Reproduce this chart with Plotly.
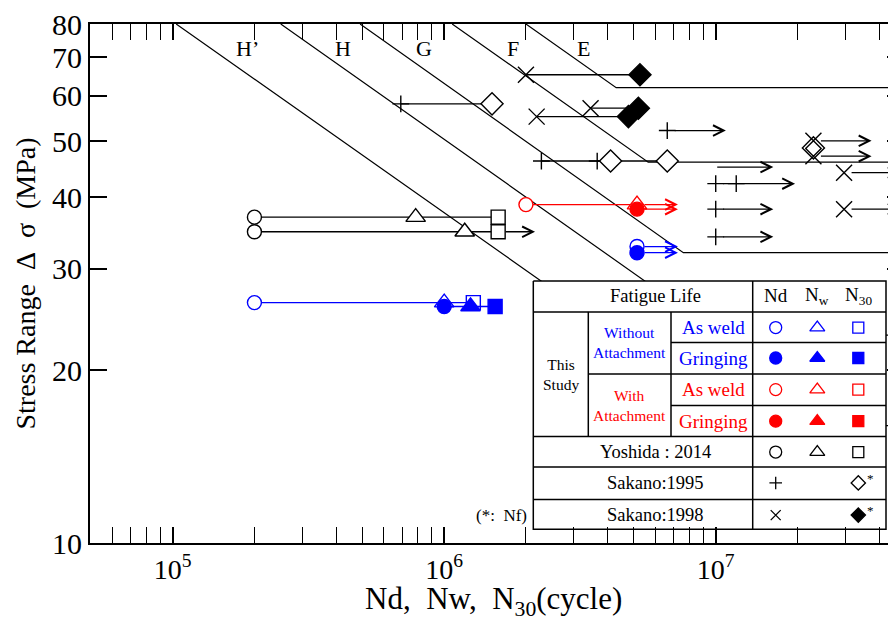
import math
import plotly.graph_objects as go

nan = float("nan")

# ---------------- data ----------------
# JSSC design S-N lines
sn_class = ["E", "F", "G", "H", "H’"]
sn_top_n = [2.0e6, 1.07e6, 4.9e5, 2.5e5, 1.03e5]      # N where line leaves 80 MPa
sn_top_sigma = 80
sn_knee_n = [4.3e6, 5.64e6, 7.6e6, 1.05e7, 1.3e7]     # knee (cut-off) N
sn_cutoff = [62, 46, 32, 23, 16]                       # cut-off limit (MPa)
sn_end_n = 1.0e8
sn_label_n = [3.27e6, 1.79e6, 8.43e5, 4.23e5, 1.88e5]
sn_label_sigma = 72.4

# This study - without attachment - as weld (blue, open)
wo_aw_sigma = [26.2, 32.8]
wo_aw_nd = [2.0e5, 5.13e6]
wo_aw_nw = [1.0e6, nan]
wo_aw_n30 = [1.28e6, nan]
wo_aw_runout = [nan, 7.26e6]

# This study - without attachment - grinding (blue, filled)
wo_gr_sigma = [25.8, 32.0]
wo_gr_nd = [1.0e6, 5.13e6]
wo_gr_nw = [1.25e6, nan]
wo_gr_n30 = [1.54e6, nan]
wo_gr_runout = [nan, 7.26e6]

# This study - with attachment - as weld (red, open)
w_aw_sigma = [38.8]
w_aw_nd = [2.0e6]
w_aw_nw = [5.13e6]
w_aw_n30 = [nan]
w_aw_runout = [7.26e6]

# This study - with attachment - grinding (red, filled)
w_gr_sigma = [38.1]
w_gr_nd = [5.13e6]
w_gr_nw = [nan]
w_gr_n30 = [nan]
w_gr_runout = [7.26e6]

# Yoshida 2014 (black, open)
yo_sigma = [36.9, 34.8]
yo_nd = [2.0e5, 2.0e5]
yo_nw = [7.85e5, 1.19e6]
yo_n30 = [1.58e6, 1.58e6]
yo_runout = [nan, 2.16e6]

# Sakano 1995 (+ = Nd, open diamond = Nf)
s95_sigma = [58.1, 46.2, 46.2, 52.2, 42.2, 42.2, 38.1, 34.1, 48.7]
s95_nd = [6.92e5, 2.28e6, 3.66e6, 6.63e6, 1.0e7, 1.19e7, 1.0e7, 1.0e7, nan]
s95_nf = [1.50e6, 4.10e6, 6.63e6, nan, nan, nan, nan, nan, 2.29e7]
s95_runout = [nan, nan, nan, 1.09e7, 1.96e7, nan, 1.63e7, 1.63e7, nan]
# Sakano 1995 run-out drawn without its own marker
s95b_sigma = [45.1]
s95b_n = [1.0e7]
s95b_runout = [1.63e7]

# Sakano 1998 (x = Nd, filled diamond = Nf)
s98_sigma = [65.3, 57.1, 55.2, 50.1, 47.1, 44.1, 38.1]
s98_nd = [2.0e6, 3.46e6, 2.19e6, 2.29e7, 2.29e7, 2.97e7, 2.97e7]
s98_nf = [5.26e6, 5.19e6, 4.77e6, nan, nan, nan, nan]
s98_runout = [nan, nan, nan, 3.75e7, 3.75e7, 4.8e7, 4.8e7]

y_tick_vals = [10, 20, 30, 40, 50, 60, 70, 80]
x_tick_vals = [1e5, 1e6, 1e7]
x_tick_text = ["10<sup>5</sup>", "10<sup>6</sup>", "10<sup>7</sup>"]
x_minor_vals = [6e4, 7e4, 8e4, 9e4, 2e5, 3e5, 4e5, 5e5, 6e5, 7e5, 8e5, 9e5,
                2e6, 3e6, 4e6, 5e6, 6e6, 7e6, 8e6, 9e6, 2e7, 3e7, 4e7]

# ---------------- style ----------------
FONT = "Liberation Serif"
BLUE = "#0000FF"
RED = "#FF0000"
BLACK = "#000000"

fig = go.Figure()
annotations = []


def isnum(v):
    return v is not None and not (isinstance(v, float) and math.isnan(v))


# S-N lines
for i, c in enumerate(sn_class):
    fig.add_trace(go.Scatter(
        x=[sn_top_n[i], sn_knee_n[i], sn_end_n],
        y=[sn_top_sigma, sn_cutoff[i], sn_cutoff[i]],
        mode="lines", line=dict(color=BLACK, width=1.2),
        hoverinfo="skip", showlegend=False))
    annotations.append(dict(x=math.log10(sn_label_n[i]), y=math.log10(sn_label_sigma),
                            xref="x", yref="y", text=c, showarrow=False,
                            font=dict(family=FONT, size=22, color=BLACK)))


def add_arrow(n0, n1, s, color, gap):
    annotations.append(dict(
        x=math.log10(n1), y=math.log10(s), xref="x", yref="y",
        ax=math.log10(n0), ay=math.log10(s), axref="x", ayref="y",
        text="", showarrow=True, arrowhead=5, arrowsize=1.6,
        arrowwidth=1.3, arrowcolor=color, standoff=0, startstandoff=gap))


def add_group(sigma, cols, symbols, color, filled, sizes, runout):
    xs, ys = [], []
    for r, s in enumerate(sigma):
        pts = [col[r] for col in cols if isnum(col[r])]
        if len(pts) >= 2:
            xs += [min(pts), max(pts), None]
            ys += [s, s, None]
    if xs:
        fig.add_trace(go.Scatter(x=xs, y=ys, mode="lines",
                                 line=dict(color=color, width=1.4),
                                 hoverinfo="skip", showlegend=False))
    for r, s in enumerate(sigma):
        if isnum(runout[r]):
            pts = [col[r] for col in cols if isnum(col[r])]
            add_arrow(max(pts), runout[r], s, color, 6)
    for col, sym, fl, sz in zip(cols, symbols, filled, sizes):
        px = [col[r] for r in range(len(sigma)) if isnum(col[r])]
        py = [sigma[r] for r in range(len(sigma)) if isnum(col[r])]
        if not px:
            continue
        fig.add_trace(go.Scatter(
            x=px, y=py, mode="markers", hoverinfo="skip", showlegend=False,
            marker=dict(symbol=sym, size=sz,
                        color=color if fl else "white",
                        line=dict(color=color, width=1.4))))


std_sym = ["circle", "triangle-up", "square"]
std_size = [14, 17, 14]
add_group(yo_sigma, [yo_nd, yo_nw, yo_n30], std_sym, BLACK, [False] * 3, std_size, yo_runout)
add_group(wo_aw_sigma, [wo_aw_nd, wo_aw_nw, wo_aw_n30], std_sym, BLUE, [False] * 3, std_size, wo_aw_runout)
add_group(wo_gr_sigma, [wo_gr_nd, wo_gr_nw, wo_gr_n30], std_sym, BLUE, [True] * 3, std_size, wo_gr_runout)
add_group(w_aw_sigma, [w_aw_nd, w_aw_nw, w_aw_n30], std_sym, RED, [False] * 3, std_size, w_aw_runout)
add_group(w_gr_sigma, [w_gr_nd, w_gr_nw, w_gr_n30], std_sym, RED, [True] * 3, std_size, w_gr_runout)
add_group(s95_sigma, [s95_nd, s95_nf], ["cross-thin", "diamond"], BLACK, [False, False], [12, 17], s95_runout)
add_group(s98_sigma, [s98_nd, s98_nf], ["x-thin", "diamond"], BLACK, [False, True], [16, 17], s98_runout)
for s, n0, n1 in zip(s95b_sigma, s95b_n, s95b_runout):
    add_arrow(n0, n1, s, BLACK, 0)

# right-hand tick marks (frame continues past the picture edge)
fig.add_trace(go.Scatter(x=[None], y=[None], yaxis="y2", showlegend=False, hoverinfo="skip"))

# ---------------- legend table (screen-pixel coordinates on an overlay axis) ----------------
L, R, T, B = 533.3, 886, 280, 529.3
C1, C2, C3 = 588.3, 671, 752.7
fig.add_trace(go.Scatter(x=[L, R, R, L, L], y=[T, T, B, B, T], xaxis="x2", yaxis="y3",
                         mode="lines", fill="toself", fillcolor="white",
                         line=dict(color=BLACK, width=1.5), hoverinfo="skip", showlegend=False))
hl = [(311, L), (341.7, C2), (373.3, C1), (405, C2), (436, L), (466.7, L), (499.3, L)]
vl = [(C3, T, B), (C1, 311, 436), (C2, 311, 436)]
gx, gy = [], []
for yv, x0 in hl:
    gx += [x0, R, None]
    gy += [yv, yv, None]
for xv, y0, y1 in vl:
    gx += [xv, xv, None]
    gy += [y0, y1, None]
fig.add_trace(go.Scatter(x=gx, y=gy, xaxis="x2", yaxis="y3", mode="lines",
                         line=dict(color=BLACK, width=1.5), hoverinfo="skip", showlegend=False))

col_x = [775.7, 817.3, 858.3]
row_y = [326.7, 357.3, 389, 420.7, 451.7]
row_col = [BLUE, BLUE, RED, RED, BLACK]
row_fill = [False, True, False, True, False]
leg_size = [12, 13, 11]
for ry, rc, rf in zip(row_y, row_col, row_fill):
    for cx, sym, sz in zip(col_x, std_sym, leg_size):
        fig.add_trace(go.Scatter(x=[cx], y=[ry], xaxis="x2", yaxis="y3", mode="markers",
                                 marker=dict(symbol=sym, size=sz, color=rc if rf else "white",
                                             line=dict(color=rc, width=1.3)),
                                 hoverinfo="skip", showlegend=False))
leg_extra = [(775.7, 482.7, "cross-thin", 9, False), (858.3, 482.7, "diamond", 11, False),
             (775.7, 515, "x-thin", 10, False), (858.3, 515, "diamond", 11, True)]
for cx, cy, sym, sz, fl in leg_extra:
    fig.add_trace(go.Scatter(x=[cx], y=[cy], xaxis="x2", yaxis="y3", mode="markers",
                             marker=dict(symbol=sym, size=sz, color=BLACK if fl else "white",
                                         line=dict(color=BLACK, width=1.3)),
                             hoverinfo="skip", showlegend=False))


def ltxt(x, y, t, size, color=BLACK, xanchor="center"):
    annotations.append(dict(x=x, y=y, xref="x2", yref="y3", text=t, showarrow=False,
                            xanchor=xanchor, font=dict(family=FONT, size=size, color=color)))


ltxt(655, 295, "Fatigue Life", 18.5)
ltxt(775.7, 295, "Nd", 19)
ltxt(817.3, 295, "N<sub>w</sub>", 19)
ltxt(858.3, 295, "N<sub>30</sub>", 19)
ltxt(560.7, 373.5, "This<br>Study", 15.5)
ltxt(629.3, 342, "Without<br>Attachment", 15.5, BLUE)
ltxt(629.3, 404.5, "With<br>Attachment", 15.5, RED)
ltxt(713.3, 326.7, "As weld", 19, BLUE)
ltxt(713.3, 357.3, "Gringing", 19, BLUE)
ltxt(713.3, 389, "As weld", 19, RED)
ltxt(713.3, 420.7, "Gringing", 19, RED)
ltxt(655, 451.7, "Yoshida : 2014", 18.5)
ltxt(655, 482.7, "Sakano:1995", 18.5)
ltxt(655, 515, "Sakano:1998", 18.5)
ltxt(870, 478, "*", 13)
ltxt(870, 510, "*", 13)
ltxt(529, 515, "(*:\u2002Nf)", 17, BLACK, "right")

# x-axis title (paper coordinates; plot area spans screen x 90-896, y 22-543)
annotations.append(dict(x=0.5, y=(543 - 601) / 521, xref="paper", yref="paper",
                        text="Nd,\u2002Nw,\u2002N<sub>30</sub>(cycle)", showarrow=False,
                        xanchor="center", yanchor="middle",
                        font=dict(family=FONT, size=31, color=BLACK)))

yr = [1, 1.90310]
# the page body has an 8 px margin: the figure is sized so the plot lands on the reference pixels
fig.update_layout(
    width=888, height=609,
    margin=dict(l=82, r=0, t=14, b=74),
    paper_bgcolor="white", plot_bgcolor="white",
    showlegend=False,
    font=dict(family=FONT, color=BLACK),
    xaxis=dict(type="log", range=[4.6954, 7.664], showgrid=False, zeroline=False,
               showline=True, linecolor=BLACK, linewidth=1.8, mirror="allticks",
               ticks="inside", ticklen=16, tickwidth=1.5, tickcolor=BLACK,
               tickvals=x_tick_vals, ticktext=x_tick_text, ticklabeloverflow="allow",
               tickfont=dict(family=FONT, size=28, color=BLACK),
               minor=dict(ticks="inside", ticklen=8, tickwidth=1.3, tickcolor=BLACK,
                          tickvals=x_minor_vals, showgrid=False)),
    yaxis=dict(type="log", range=yr, showgrid=False, zeroline=False,
               showline=True, linecolor=BLACK, linewidth=1.8, mirror=False,
               ticks="inside", ticklen=17, tickwidth=1.5, tickcolor=BLACK,
               tickvals=y_tick_vals, ticktext=[str(v) for v in y_tick_vals],
               ticklabeloverflow="allow",
               tickfont=dict(family=FONT, size=30, color=BLACK),
               title=dict(text="Stress Range\u2002Δ\u2002σ\u2002(MPa)",
                          font=dict(family=FONT, size=28, color=BLACK), standoff=8)),
    yaxis2=dict(type="log", range=yr, overlaying="y", side="right", showgrid=False,
                zeroline=False, showline=False, ticks="inside", ticklen=9, tickwidth=1.5,
                tickcolor=BLACK, tickvals=y_tick_vals, showticklabels=False),
    xaxis2=dict(overlaying="x", range=[90, 896], visible=False, showgrid=False),
    yaxis3=dict(overlaying="y", range=[543, 22], visible=False, showgrid=False),
    annotations=annotations,
)

fig.write_html("out.html")
